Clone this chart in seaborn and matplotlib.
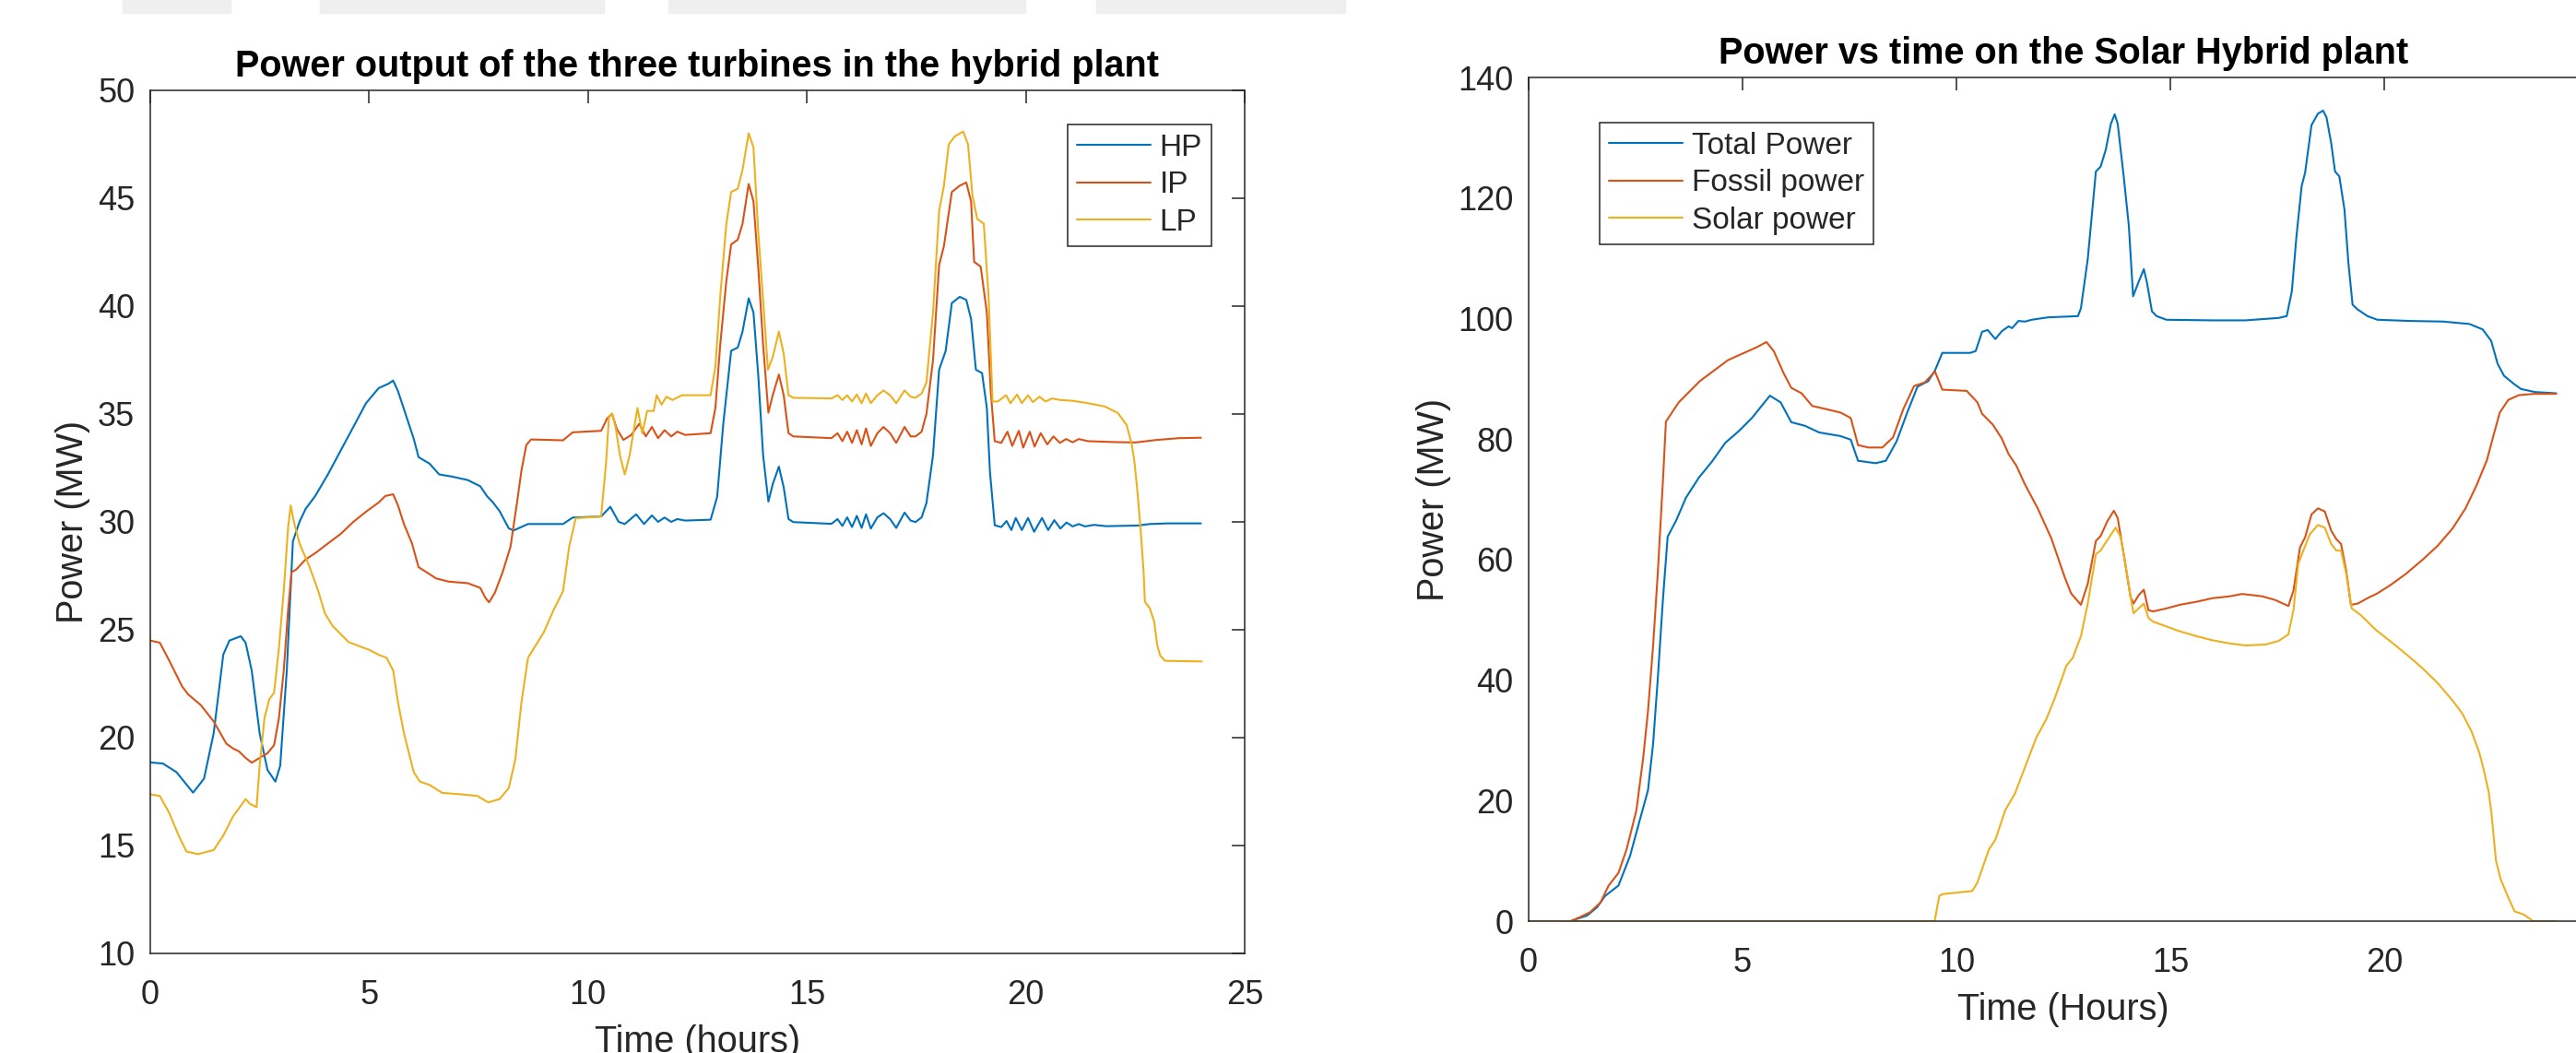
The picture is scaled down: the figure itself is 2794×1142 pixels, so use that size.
import numpy as np
import pandas as pd
import seaborn as sns
import matplotlib.pyplot as plt
from matplotlib.patches import Rectangle

# ---------- left chart: turbine outputs (MW) ----------
t_hp = [0, 0.29, 0.6, 0.98, 1.23, 1.45, 1.67, 1.81, 2.07, 2.18, 2.32, 2.5, 2.68, 2.86, 2.97, 3.12, 3.26,
        3.41, 3.55, 3.77, 4.06, 4.35, 4.64, 4.93, 5.22, 5.44, 5.55, 5.66, 5.8, 6.02, 6.13, 6.38, 6.6,
        6.89, 7.25, 7.54, 7.69, 7.83, 7.98, 8.19, 8.3, 8.63, 9.43, 9.65, 10.3, 10.51, 10.7, 10.84, 11.1,
        11.28, 11.46, 11.6, 11.75, 11.9, 12.04, 12.22, 12.8, 12.95, 13.09, 13.27, 13.42, 13.53, 13.67,
        13.78, 13.89, 14.0, 14.12, 14.22, 14.36, 14.47, 14.58, 14.69, 15.56, 15.7, 15.81, 15.92, 16.03,
        16.14, 16.25, 16.35, 16.46, 16.61, 16.75, 16.9, 17.04, 17.23, 17.37, 17.48, 17.62, 17.73, 17.88,
        18.02, 18.17, 18.31, 18.49, 18.64, 18.75, 18.86, 19.0, 19.11, 19.18, 19.29, 19.44, 19.56, 19.67,
        19.77, 19.91, 20.05, 20.19, 20.37, 20.51, 20.65, 20.79, 20.93, 21.07, 21.21, 21.35, 21.56, 21.84,
        22.55, 22.83, 23.25, 24.0]
p_hp = [18.85, 18.8, 18.4, 17.45, 18.1, 20.2, 23.85, 24.5, 24.7, 24.4, 23.1, 20.2, 18.5, 17.96, 18.7, 23.1, 29.1,
        30.0, 30.6, 31.2, 32.2, 33.3, 34.4, 35.5, 36.2, 36.4, 36.55, 36.06, 35.2, 33.85, 33.0, 32.7, 32.2,
        32.1, 31.94, 31.65, 31.2, 30.9, 30.5, 29.7, 29.6, 29.9, 29.9, 30.2, 30.25, 30.7, 30.0, 29.9, 30.35,
        29.9, 30.3, 30.0, 30.2, 30.0, 30.13, 30.06, 30.1, 31.16, 34.55, 37.93, 38.08, 38.82, 40.36,
        39.7, 36.76, 33.08, 30.94, 31.75, 32.56, 31.6, 30.13, 29.99, 29.91, 30.13, 29.81, 30.21, 29.76,
        30.28, 29.72, 30.35, 29.69, 30.21, 30.4, 30.13, 29.72, 30.43, 30.06, 29.99, 30.21, 30.87, 33.08,
        37.05, 37.93, 40.14, 40.43, 40.29, 39.4, 37.05, 36.9, 35.28, 32.34, 29.84, 29.76, 30.04, 29.62,
        30.18, 29.62, 30.18, 29.54, 30.18, 29.62, 30.08, 29.69, 29.97, 29.79, 29.9, 29.79, 29.86, 29.8,
        29.83, 29.9, 29.93, 29.93]

t_ip = [0, 0.22, 0.44, 0.73, 0.87, 1.16, 1.45, 1.74, 1.89, 2.03, 2.18, 2.32, 2.5, 2.68, 2.83, 2.94, 3.05,
        3.15, 3.23, 3.34, 3.55, 3.77, 4.06, 4.35, 4.64, 4.93, 5.22, 5.37, 5.55, 5.66, 5.8, 5.98, 6.13,
        6.31, 6.53, 6.82, 7.25, 7.54, 7.65, 7.74, 7.87, 8.05, 8.23, 8.38, 8.48, 8.59, 8.7, 9.43, 9.65,
        10.3, 10.44, 10.55, 10.66, 10.81, 10.99, 11.17, 11.32, 11.46, 11.6, 11.75, 11.9, 12.04, 12.22,
        12.8, 12.91, 13.02, 13.16, 13.27, 13.42, 13.53, 13.67, 13.78, 13.89, 14.0, 14.12, 14.22, 14.36,
        14.47, 14.58, 14.69, 15.56, 15.7, 15.81, 15.92, 16.03, 16.14, 16.25, 16.35, 16.46, 16.61, 16.75,
        16.9, 17.04, 17.23, 17.37, 17.48, 17.62, 17.73, 17.88, 18.02, 18.13, 18.31, 18.49, 18.64, 18.75,
        18.82, 18.97, 19.11, 19.2, 19.29, 19.44, 19.58, 19.69, 19.84, 19.94, 20.09, 20.2, 20.34, 20.49,
        20.63, 20.78, 20.92, 21.07, 21.21, 21.42, 22.0, 22.5, 23.0, 23.5, 24.0]
p_ip = [24.5, 24.4, 23.55, 22.37, 22.0, 21.5, 20.75, 19.72, 19.5, 19.36, 19.06, 18.84, 19.06, 19.28, 19.65, 20.9, 23.1,
        25.9, 27.67, 27.8, 28.26, 28.55, 29.0, 29.44, 30.0, 30.47, 30.9, 31.2, 31.28, 30.76, 29.88, 29.0, 27.9,
        27.67, 27.38, 27.23, 27.16, 26.94, 26.5, 26.27, 26.7, 27.67, 28.85, 30.91, 32.38, 33.56, 33.82, 33.78, 34.15,
        34.22, 34.8, 35.0, 34.3, 33.8, 34.03, 34.55, 33.96, 34.4, 33.88, 34.25, 33.96, 34.18, 34.03,
        34.11, 35.28, 38.2, 41.17, 42.86, 43.08, 43.82, 45.66, 44.85, 41.76, 38.2, 35.06, 35.87, 36.83,
        35.87, 34.11, 33.96, 33.88, 34.11, 33.74, 34.18, 33.66, 34.25, 33.59, 34.33, 33.52, 34.11, 34.4,
        34.11, 33.66, 34.4, 33.96, 33.96, 34.18, 35.0, 37.49, 41.9, 42.79, 45.29, 45.58, 45.73, 44.85,
        42.05, 41.83, 39.7, 36.02, 33.74, 33.66, 34.18, 33.52, 34.22, 33.44, 34.18, 33.49, 34.11, 33.59,
        33.96, 33.66, 33.84, 33.69, 33.84, 33.74, 33.7, 33.68, 33.8, 33.88, 33.9]

t_lp = [0, 0.22, 0.44, 0.65, 0.83, 1.09, 1.45, 1.67, 1.89, 2.18, 2.28, 2.43, 2.5, 2.61, 2.72, 2.83, 2.94,
        3.05, 3.15, 3.21, 3.28, 3.41, 3.63, 3.84, 3.99, 4.17, 4.35, 4.53, 4.71, 5.0, 5.22, 5.4, 5.55,
        5.66, 5.8, 6.02, 6.16, 6.38, 6.67, 7.11, 7.47, 7.72, 7.98, 8.19, 8.34, 8.48, 8.63, 8.81, 8.99,
        9.21, 9.43, 9.57, 9.72, 10.3, 10.41, 10.48, 10.55, 10.63, 10.73, 10.84, 10.95, 11.13, 11.24,
        11.35, 11.5, 11.57, 11.68, 11.79, 11.93, 12.15, 12.8, 12.91, 13.02, 13.16, 13.27, 13.42, 13.53,
        13.67, 13.78, 13.89, 14.02, 14.11, 14.22, 14.36, 14.47, 14.58, 14.69, 15.56, 15.7, 15.81, 15.92,
        16.03, 16.14, 16.25, 16.35, 16.46, 16.61, 16.75, 16.9, 17.04, 17.23, 17.37, 17.48, 17.62, 17.73,
        17.88, 18.02, 18.13, 18.24, 18.38, 18.57, 18.68, 18.78, 18.89, 19.04, 19.15, 19.24, 19.36, 19.55,
        19.65, 19.8, 19.91, 20.05, 20.16, 20.31, 20.45, 20.6, 20.78, 21.07, 21.42, 21.8, 22.1, 22.3,
        22.42, 22.48, 22.55, 22.62, 22.69, 22.72, 22.83, 22.93, 23.0, 23.07, 23.18, 24.02]
p_lp = [17.37, 17.3, 16.49, 15.46, 14.72, 14.6, 14.79, 15.46, 16.34, 17.15, 16.93, 16.78, 18.7, 20.9, 21.78, 22.08, 24.14,
        26.79, 29.73, 30.76, 30.03, 29.0, 27.97, 26.79, 25.76, 25.17, 24.8, 24.43, 24.29, 24.07, 23.84, 23.7, 23.11,
        21.64, 20.17, 18.4, 17.96, 17.81, 17.44, 17.37, 17.3, 17.0, 17.15, 17.66, 18.99, 21.64, 23.7, 24.29, 24.88,
        25.9, 26.79, 28.85, 30.17, 30.25, 32.67, 34.88, 35.03, 34.4, 33.08, 32.2, 33.08, 35.28, 34.1,
        35.14, 35.14, 35.87, 35.43, 35.8, 35.65, 35.87, 35.87, 37.2, 40.43, 43.82, 45.29, 45.44, 46.32,
        48.01, 47.35, 43.38, 39.7, 37.05, 37.64, 38.82, 37.79, 35.87, 35.75, 35.72, 35.87, 35.65, 35.87,
        35.58, 35.9, 35.5, 35.95, 35.5, 35.87, 36.09, 35.87, 35.5, 36.09, 35.8, 35.75, 35.95, 36.46,
        39.7, 44.41, 45.58, 47.5, 47.87, 48.09, 47.5, 45.14, 44.04, 43.82, 40.43, 35.58, 35.58, 35.87,
        35.5, 35.9, 35.5, 35.87, 35.55, 35.8, 35.58, 35.72, 35.65, 35.61, 35.5, 35.35, 35.05, 34.5,
        33.6, 32.8, 31.4, 29.7, 27.7, 26.3, 26.0, 25.4, 24.3, 23.8, 23.56, 23.53]

# ---------- right chart: plant power (MW) ----------
t_total = [0, 0.98, 1.14, 1.37, 1.6, 1.79, 2.1, 2.37, 2.6, 2.79, 2.91, 3.02, 3.14, 3.25, 3.45, 3.68, 3.98,
           4.29, 4.6, 4.91, 5.22, 5.64, 5.89, 6.14, 6.46, 6.79, 7.29, 7.53, 7.7, 8.11, 8.35, 8.6, 8.85,
           9.09, 9.34, 9.5, 9.67, 10.32, 10.45, 10.6, 10.73, 10.91, 11.06, 11.22, 11.3, 11.45, 11.6, 11.76,
           12.14, 12.84, 12.91, 13.07, 13.26, 13.37, 13.49, 13.61, 13.7, 13.77, 13.91, 14.03, 14.13, 14.26,
           14.38, 14.45, 14.57, 14.68, 14.91, 15.99, 16.76, 17.53, 17.72, 17.84, 17.95, 18.07, 18.15, 18.3,
           18.45, 18.57, 18.65, 18.76, 18.85, 18.95, 19.07, 19.16, 19.26, 19.38, 19.61, 19.84, 20.61, 21.38,
           21.99, 22.3, 22.5, 22.65, 22.8, 23.04, 23.2, 23.53, 24.02]
p_total = [0, 0, 0.4, 0.94, 2.3, 4.2, 5.9, 10.8, 16.8, 21.7, 29.4, 40.3, 53.4, 63.8, 66.5, 70.3, 73.6,
           76.3, 79.4, 81.3, 83.5, 87.2, 86.1, 82.8, 82.2, 81.1, 80.5, 79.9, 76.4, 76.0, 76.4, 79.6, 84.4,
           88.7, 89.6, 91.4, 94.3, 94.3, 94.6, 97.8, 98.1, 96.6, 97.9, 98.7, 98.4, 99.6, 99.5, 99.8,
           100.2, 100.4, 101.7, 109.9, 124.4, 125.2, 128.0, 132.3, 133.9, 132.3, 123.6, 115.4, 103.7, 106.1,
           108.2, 106.1, 101.2, 100.4, 99.8, 99.7, 99.7, 100.1, 100.4, 104.5, 113.8, 122.0, 124.2, 132.1,
           134.0, 134.5, 133.4, 129.1, 124.4, 123.6, 118.1, 109.4, 102.3, 101.5, 100.4, 99.8, 99.6, 99.5,
           99.1, 98.2, 96.3, 92.5, 90.5, 89.1, 88.3, 87.8, 87.6]

t_fossil = [0, 0.98, 1.21, 1.44, 1.68, 1.87, 2.1, 2.29, 2.52, 2.68, 2.79, 2.91, 3.02, 3.14, 3.21, 3.51, 4.0,
            4.66, 5.32, 5.56, 5.73, 5.97, 6.14, 6.38, 6.63, 6.96, 7.29, 7.53, 7.7, 7.94, 8.27, 8.52, 8.76,
            9.01, 9.26, 9.5, 9.67, 10.24, 10.49, 10.6, 10.85, 11.06, 11.22, 11.4, 11.6, 11.9, 12.22, 12.53,
            12.68, 12.91, 13.07, 13.26, 13.37, 13.53, 13.68, 13.77, 13.91, 14.07, 14.14, 14.26, 14.38, 14.49,
            14.6, 14.91, 15.22, 15.61, 15.99, 16.38, 16.68, 17.15, 17.45, 17.76, 17.88, 18.03, 18.15, 18.3,
            18.45, 18.61, 18.76, 18.88, 18.99, 19.11, 19.22, 19.38, 19.61, 19.84, 20.15, 20.5, 20.9, 21.25,
            21.6, 21.9, 22.15, 22.4, 22.55, 22.7, 22.9, 23.15, 23.5, 24.02]
p_fossil = [0, 0, 0.7, 1.5, 3.1, 5.9, 8.0, 11.9, 18.4, 27.2, 34.8, 45.7, 57.8, 73.1, 82.9, 86.1, 89.6,
            93.1, 95.2, 96.1, 94.6, 90.8, 88.5, 87.6, 85.5, 84.96, 84.4, 83.5, 79.0, 78.6, 78.6, 80.3, 85.0,
            88.8, 89.4, 91.2, 88.2, 88.0, 86.1, 84.2, 82.4, 80.1, 77.5, 75.6, 72.5, 68.5, 63.5, 57.1,
            54.4, 52.5, 56.0, 63.1, 63.9, 66.4, 68.1, 66.9, 60.9, 53.8, 52.7, 54.1, 55.0, 51.6,
            51.4, 51.9, 52.5, 53.0, 53.6, 53.9, 54.3, 53.9, 53.3, 52.3, 54.9, 62.0, 63.7, 67.5,
            68.5, 68.0, 64.8, 63.4, 62.6, 58.2, 52.5, 52.7, 53.6, 54.4, 55.8, 57.6, 60.0, 62.3,
            65.2, 68.5, 72.2, 76.5, 80.5, 84.4, 86.5, 87.3, 87.5, 87.5]

t_solar = [0, 9.49, 9.6, 9.68, 10.37, 10.49, 10.76, 10.91, 11.14, 11.37, 11.6, 11.87, 12.1, 12.3, 12.57,
           12.72, 12.91, 13.07, 13.26, 13.37, 13.57, 13.72, 13.84, 13.95, 14.07, 14.14, 14.26, 14.38, 14.49,
           14.6, 14.91, 15.22, 15.61, 15.99, 16.38, 16.76, 17.22, 17.53, 17.76, 17.88, 17.99, 18.11, 18.26,
           18.45, 18.61, 18.76, 18.88, 18.99, 19.11, 19.24, 19.45, 19.81, 20.17, 20.53, 20.89, 21.25, 21.61,
           21.82, 22.04, 22.22, 22.33, 22.44, 22.51, 22.61, 22.72, 22.9, 23.05, 23.26, 23.48, 24.02]
p_solar = [0, 0, 4.2, 4.5, 5.0, 6.4, 11.9, 13.5, 18.4, 21.2, 25.5, 30.5, 33.5, 37.0, 42.4,
           43.7, 47.3, 52.7, 60.9, 61.5, 63.7, 65.3, 63.7, 59.3, 53.8, 51.1, 51.9, 52.7, 50.3,
           49.7, 48.9, 48.1, 47.3, 46.6, 46.1, 45.75, 45.9, 46.5, 47.6, 51.7, 59.3, 61.5, 64.2,
           65.75, 65.3, 62.6, 61.5, 61.5, 57.7, 51.9, 50.8, 48.3, 46.3, 44.2, 42.0, 39.5, 36.5,
           34.5, 31.5, 28.0, 25.0, 21.5, 17.7, 10.1, 7.0, 3.9, 1.6, 1.1, 0.0, 0.0]

matlab = ['#0072BD', '#D95319', '#EDB120']


def long_df(pairs):
    frames = []
    for name, t, p in pairs:
        frames.append(pd.DataFrame({'t': t, 'p': p, 'series': name}))
    return pd.concat(frames, ignore_index=True)


turb = long_df([('HP', t_hp, p_hp), ('IP', t_ip, p_ip), ('LP', t_lp, p_lp)])
plant = long_df([('Total Power', t_total, p_total), ('Fossil power', t_fossil, p_fossil),
                 ('Solar power', t_solar, p_solar)])

sns.set_theme(style='white')
plt.rcParams['font.family'] = ['Liberation Sans', 'DejaVu Sans']
plt.rcParams['text.color'] = '#262626'
plt.rcParams['axes.labelcolor'] = '#262626'

fig = plt.figure(figsize=(27.94, 11.42), dpi=100)
fig.patch.set_facecolor('white')

# faint watermark band along the top edge
for x0, x1 in [(133, 250), (347, 655), (725, 1112), (1189, 1459)]:
    fig.patches.append(Rectangle((x0 / 2794, 1 - 14 / 1142), (x1 - x0) / 2794, 14 / 1142,
                                 transform=fig.transFigure, color='#efefef', zorder=0))

ax1 = fig.add_axes([0.0583, 0.0946, 0.4249, 0.8196])
ax2 = fig.add_axes([0.5934, 0.1252, 0.4152, 0.8012])

sns.lineplot(data=turb, x='t', y='p', hue='series', hue_order=['HP', 'IP', 'LP'], palette=matlab,
             estimator=None, sort=False, linewidth=1.5, ax=ax1)
sns.lineplot(data=plant, x='t', y='p', hue='series',
             hue_order=['Total Power', 'Fossil power', 'Solar power'], palette=matlab,
             estimator=None, sort=False, linewidth=1.5, ax=ax2)

ax1.set_xlim(0, 25)
ax1.set_ylim(10, 50)
ax1.set_xticks(range(0, 26, 5))
ax1.set_yticks(range(10, 51, 5))
ax1.set_title('Power output of the three turbines in the hybrid plant', fontsize=28.5,
              fontweight='bold', color='black', pad=11)
ax1.set_xlabel('Time (hours)', fontsize=28.5, labelpad=10.5)
ax1.set_ylabel('Power (MW)', fontsize=28.5, labelpad=6)

ax2.set_xlim(0, 25)
ax2.set_ylim(0, 140)
ax2.set_xticks(range(0, 26, 5))
ax2.set_yticks(range(0, 141, 20))
ax2.set_title('Power vs time on the Solar Hybrid plant', fontsize=28.5,
              fontweight='bold', color='black', pad=11)
ax2.set_xlabel('Time (Hours)', fontsize=28.5, labelpad=10.5)
ax2.set_ylabel('Power (MW)', fontsize=28.5, labelpad=5)

for ax in (ax1, ax2):
    ax.tick_params(direction='in', length=10, width=1.1, colors='#262626', labelsize=26,
                   top=True, right=True, pad=12)
    ax.tick_params(axis='x', pad=20)
    for sp in ax.spines.values():
        sp.set_visible(True)
        sp.set_color('#262626')
        sp.set_linewidth(1.1)

sns.move_legend(ax1, 'upper right', bbox_to_anchor=(0.4703, 0.8818), bbox_transform=fig.transFigure,
                title=None, frameon=True, fancybox=False, fontsize=24, handlelength=2.4,
                handletextpad=0.3, labelspacing=0.28, borderpad=0.3, borderaxespad=0)
sns.move_legend(ax2, 'upper left', bbox_to_anchor=(0.621, 0.8835), bbox_transform=fig.transFigure,
                title=None, frameon=True, fancybox=False, fontsize=24, handlelength=2.4,
                handletextpad=0.3, labelspacing=0.28, borderpad=0.3, borderaxespad=0)
for ax in (ax1, ax2):
    leg = ax.get_legend()
    leg.get_frame().set_edgecolor('#262626')
    leg.get_frame().set_linewidth(1.1)
    leg.get_frame().set_alpha(1)
    for line in leg.get_lines():
        line.set_linewidth(1.5)

fig.savefig('out.png', dpi=100, facecolor='white')
